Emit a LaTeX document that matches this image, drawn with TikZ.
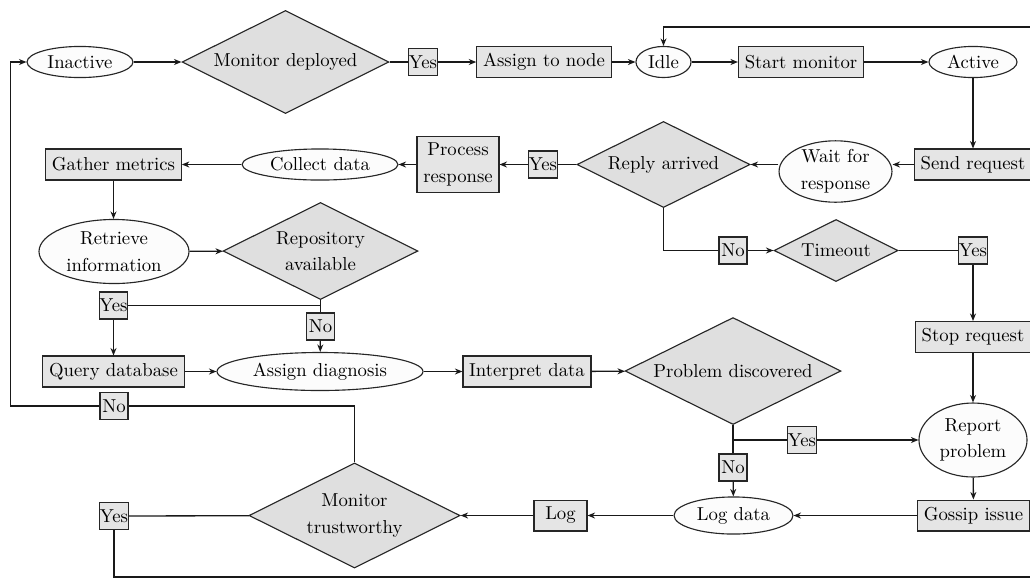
\documentclass[tikz,border=0pt]{standalone}
\usetikzlibrary{shapes.geometric,arrows.meta}
\begin{document}
\begin{tikzpicture}[x=0.534pt,y=-0.534pt,
  box/.style={draw=black!85, fill=gray!20, rectangle, minimum height=16.5pt, align=center, line width=0.6pt},
  oval/.style={draw=black!85, fill=gray!2, ellipse, inner sep=0pt, align=center, line width=0.6pt},
  dia/.style={draw=black!85, fill=gray!25, diamond, aspect=2, inner sep=0pt, align=center, line width=0.6pt},
  lbl/.style={draw=black!85, fill=gray!20, rectangle, inner sep=0pt, minimum width=15pt, minimum height=14.4pt, line width=0.6pt},
  conn/.style={line width=0.7pt, draw=black!90},
  arr/.style={conn, -{Stealth[length=4pt,width=3.2pt]}},
]
\useasboundingbox (0,0) rectangle (1030,578);

% nodes
\node[oval, minimum width=56.6pt, minimum height=16.6pt] (inactive) at (80,62) {Inactive};
\node[dia, minimum width=110.5pt, minimum height=55pt] (md) at (285.5,62) {Monitor deployed};
\node[lbl] (y1) at (423,62) {Yes};
\node[box] (assign) at (544,62) {Assign to node};
\node[oval, minimum width=29.4pt, minimum height=16.6pt] (idle) at (663.5,62) {Idle};
\node[box] (start) at (801,62) {Start monitor};
\node[oval, minimum width=47pt, minimum height=16.6pt] (active) at (973,62) {Active};

\node[box] (send) at (973,164.5) {Send request};
\node[oval, minimum width=60.3pt, minimum height=32.6pt] (wait) at (835.5,171.5) {Wait for\\[2.2pt]response};
\node[dia, minimum width=92.4pt, minimum height=46pt] (reply) at (663.5,164.5) {Reply arrived};
\node[lbl] (y2) at (543,164.5) {Yes};
\node[box] (process) at (458,164.5) {Process\\[2.2pt]response};
\node[oval, minimum width=83.3pt, minimum height=16.6pt] (collect) at (320,164.5) {Collect data};
\node[box] (gather) at (113.5,164.5) {Gather metrics};

\node[oval, minimum width=80.1pt, minimum height=34.2pt] (retrieve) at (114,251.5) {Retrieve\\[2.2pt]information};
\node[dia, minimum width=104.1pt, minimum height=51.8pt] (repo) at (320.5,251) {Repository\\[2.2pt]available};
\node[lbl] (n2) at (733,250.5) {No};
\node[dia, minimum width=66.2pt, minimum height=33.1pt] (timeout) at (836,250.5) {Timeout};
\node[lbl] (y4) at (973,250.5) {Yes};

\coordinate (j1) at (320.5,305.5);
\node[lbl] (y3) at (113.5,305.5) {Yes};
\node[lbl] (n3) at (320.5,326.5) {No};
\node[box] (query) at (113.5,371.5) {Query database};
\node[oval, minimum width=110pt, minimum height=20.3pt] (diag) at (320,371.5) {Assign diagnosis};
\node[box] (interp) at (527,371.5) {Interpret data};
\node[dia, minimum width=115.3pt, minimum height=57.1pt] (pd) at (733,371) {Problem discovered};
\node[box] (stop) at (973,337) {Stop request};
\node[oval, minimum width=57.7pt, minimum height=39.5pt] (report) at (973,440) {Report\\[2.2pt]problem};
\coordinate (j2) at (733,440);
\node[lbl] (y5) at (802,440) {Yes};
\node[lbl] (n5) at (733,467.5) {No};

\node[oval, minimum width=63.5pt, minimum height=19.8pt] (logdata) at (733.5,515.5) {Log data};
\node[box] (gossip) at (973.5,515.5) {Gossip issue};
\node[box, minimum width=28.3pt] (log) at (560.5,515.5) {Log};
\node[dia, minimum width=112.7pt, minimum height=56.1pt] (mt) at (354.5,515.5) {Monitor\\[2.2pt]trustworthy};
\node[lbl] (y6) at (114,516) {Yes};
\node[lbl] (n6) at (114,406) {No};

\coordinate (lc) at (10.5,62);
\coordinate (tr) at (1040,27);
\coordinate (br) at (1040,577);

% connectors
\draw[arr] (inactive) -- (md);
\draw[conn] (md) -- (y1);
\draw[arr] (y1) -- (assign);
\draw[arr] (assign) -- (idle);
\draw[arr] (idle) -- (start);
\draw[arr] (start) -- (active);
\draw[arr] (tr) -| (idle.north);
\draw[arr] (active) -- (send);
\draw[arr] (send.west) -- (send.west -| wait.east);
\draw[arr] (wait.west |- reply.east) -- (reply.east);
\draw[conn] (reply) -- (y2);
\draw[arr] (y2) -- (process);
\draw[arr] (process) -- (collect);
\draw[arr] (collect) -- (gather);
\draw[arr] (gather.south) -- (gather.south |- retrieve.north);
\draw[arr] (retrieve) -- (repo);
\draw[conn] (repo.south) -- (j1);
\draw[conn] (j1) -- (y3);
\draw[arr] (y3) -- (query);
\draw[conn] (j1) -- (n3);
\draw[arr] (n3) -- (diag);
\draw[arr] (query) -- (diag);
\draw[arr] (diag) -- (interp);
\draw[arr] (interp) -- (pd);
\draw[conn] (reply.south) |- (n2);
\draw[arr] (n2) -- (timeout);
\draw[conn] (timeout) -- (y4);
\draw[arr] (y4) -- (stop);
\draw[arr] (stop) -- (report);
\draw[arr] (report) -- (gossip);
\draw[conn] (pd.south) -- (j2);
\draw[conn] (j2) -- (y5);
\draw[arr] (y5) -- (report);
\draw[conn] (j2) -- (n5);
\draw[arr] (n5) -- (logdata);
\draw[arr] (gossip) -- (logdata);
\draw[arr] (logdata) -- (log);
\draw[arr] (log) -- (mt);
\draw[conn] (mt) -- (y6);
\draw[conn] (y6) |- (br);
\draw[conn] (mt.north) |- (n6);
\draw[arr] (n6) -| (lc) -- (inactive);
\end{tikzpicture}
\end{document}
